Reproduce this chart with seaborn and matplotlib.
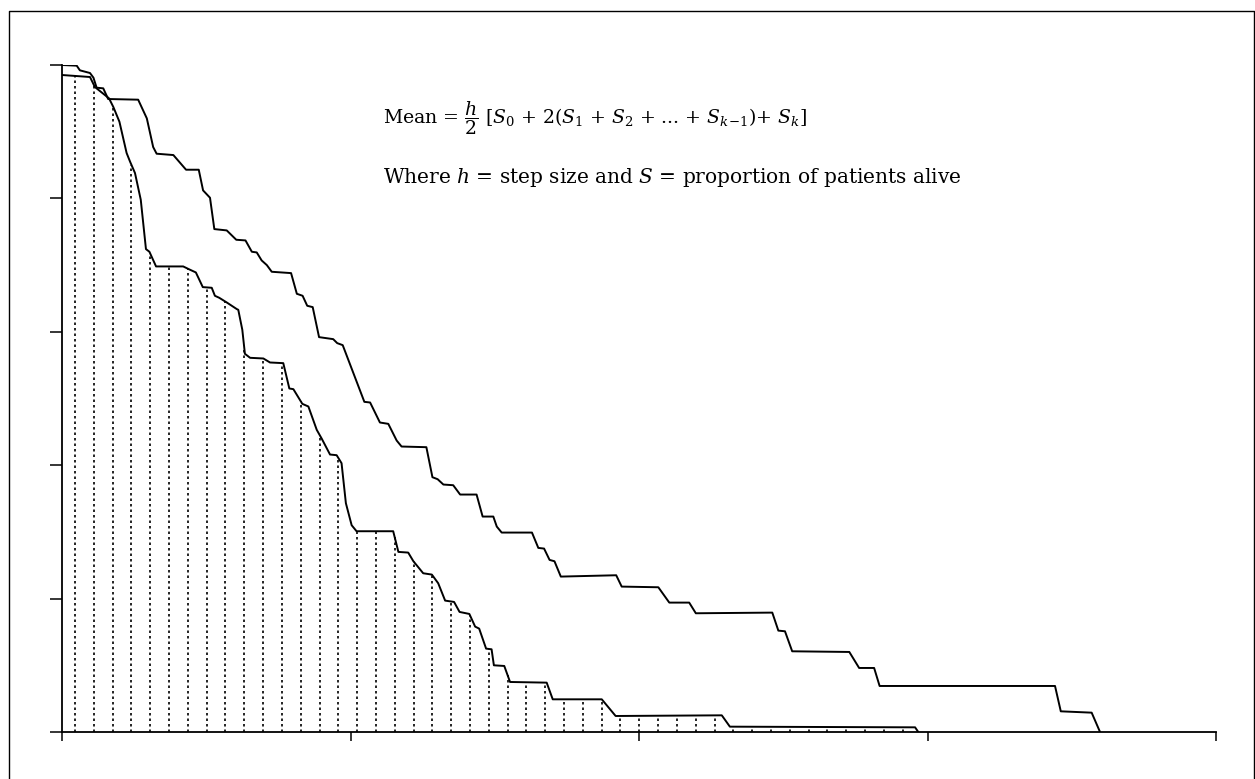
import numpy as np
import pandas as pd
import matplotlib
matplotlib.use("Agg")
import matplotlib.pyplot as plt
from matplotlib.lines import Line2D
import seaborn as sns

# ---- data ----
upper_t = [0.000, 0.051, 0.062, 0.097, 0.109, 0.120, 0.143, 0.160, 0.264, 0.294,
           0.316, 0.328, 0.386, 0.430, 0.474, 0.489, 0.513, 0.528, 0.571, 0.604,
           0.636, 0.658, 0.675, 0.692, 0.710, 0.727, 0.794, 0.814, 0.834, 0.850,
           0.869, 0.891, 0.940, 0.954, 0.973, 1.048, 1.068, 1.102, 1.131, 1.160,
           1.177, 1.263, 1.284, 1.302, 1.322, 1.356, 1.380, 1.437, 1.458, 1.495,
           1.507, 1.524, 1.629, 1.651, 1.671, 1.690, 1.707, 1.729, 1.921, 1.940,
           2.067, 2.105, 2.174, 2.197, 2.462, 2.483, 2.506, 2.531, 2.729, 2.763,
           2.815, 2.834, 3.442, 3.462, 3.569, 3.598]
upper_s = [1.000, 0.999, 0.992, 0.988, 0.981, 0.966, 0.965, 0.949, 0.948, 0.920,
           0.877, 0.867, 0.865, 0.843, 0.843, 0.812, 0.801, 0.754, 0.752, 0.738,
           0.737, 0.720, 0.719, 0.707, 0.700, 0.690, 0.688, 0.657, 0.654, 0.639,
           0.637, 0.592, 0.589, 0.583, 0.580, 0.495, 0.494, 0.464, 0.462, 0.437,
           0.428, 0.427, 0.382, 0.379, 0.371, 0.370, 0.356, 0.356, 0.323, 0.323,
           0.308, 0.299, 0.299, 0.276, 0.275, 0.258, 0.256, 0.233, 0.235, 0.218,
           0.217, 0.194, 0.194, 0.178, 0.179, 0.152, 0.151, 0.121, 0.120, 0.096,
           0.096, 0.069, 0.069, 0.031, 0.029, 0.000]

lower_t = [0.000, 0.097, 0.114, 0.163, 0.178, 0.199, 0.224, 0.236, 0.253, 0.273,
           0.291, 0.303, 0.326, 0.420, 0.444, 0.464, 0.488, 0.519, 0.530, 0.545,
           0.571, 0.606, 0.611, 0.625, 0.634, 0.652, 0.698, 0.721, 0.767, 0.788,
           0.802, 0.833, 0.854, 0.883, 0.900, 0.929, 0.952, 0.969, 0.984, 1.004,
           1.021, 1.148, 1.166, 1.200, 1.218, 1.252, 1.282, 1.304, 1.328, 1.359,
           1.378, 1.412, 1.432, 1.446, 1.470, 1.489, 1.497, 1.533, 1.553, 1.680,
           1.701, 1.871, 1.919, 2.287, 2.315, 2.957, 2.968]
lower_s = [0.985, 0.982, 0.967, 0.950, 0.937, 0.915, 0.868, 0.855, 0.838, 0.798,
           0.724, 0.720, 0.698, 0.698, 0.693, 0.689, 0.667, 0.666, 0.654, 0.651,
           0.644, 0.634, 0.633, 0.603, 0.567, 0.561, 0.560, 0.554, 0.553, 0.515,
           0.514, 0.492, 0.488, 0.453, 0.440, 0.416, 0.415, 0.403, 0.343, 0.310,
           0.301, 0.301, 0.270, 0.269, 0.256, 0.238, 0.236, 0.223, 0.197, 0.195,
           0.180, 0.177, 0.158, 0.155, 0.125, 0.124, 0.100, 0.099, 0.075, 0.074,
           0.049, 0.049, 0.024, 0.025, 0.008, 0.007, 0.000]

# trapezium-rule step grid (step size h) drawn under the lower curve
step_first = 0.045
step_h = 0.0652
step_count = 45

x_ticks = [0, 1, 2, 3, 4]
y_ticks = [0.0, 0.2, 0.4, 0.6, 0.8, 1.0]

formula_text = r"Mean = $\dfrac{h}{2}$ [$S_0$ + 2($S_1$ + $S_2$ + ... + $S_{k\!-\!1}$)+ $S_k$]"
legend_text = r"Where $h$ = step size and $S$ = proportion of patients alive"

# ---- styling ----
sns.set_style("white")
plt.rcParams["font.family"] = ["DejaVu Serif"]
plt.rcParams["mathtext.fontset"] = "dejavuserif"

W, H = 1255, 779
fig = plt.figure(figsize=(W / 100, H / 100), dpi=100)
fig.patch.set_facecolor("white")
ax = fig.add_axes([62 / W, (H - 732) / H, (1216 - 62) / W, (732 - 65) / H])

df_u = pd.DataFrame({"t": upper_t, "s": upper_s})
df_l = pd.DataFrame({"t": lower_t, "s": lower_s})
sns.lineplot(data=df_u, x="t", y="s", sort=False, estimator=None, color="black",
             linewidth=1.4, ax=ax)
sns.lineplot(data=df_l, x="t", y="s", sort=False, estimator=None, color="black",
             linewidth=1.4, ax=ax)

grid_x = step_first + step_h * np.arange(step_count)
grid_top = np.interp(grid_x, lower_t, lower_s)
ax.vlines(grid_x, 0, grid_top, colors="black", linewidth=1.2,
          linestyles=(0, (1.5, 1.8)))

ax.set_xlim(0, 4)
ax.set_ylim(0, 1)
ax.set_xticks(x_ticks)
ax.set_yticks(y_ticks)
ax.set_xticklabels([])
ax.set_yticklabels([])
ax.set_xlabel("")
ax.set_ylabel("")
for side in ["top", "right"]:
    ax.spines[side].set_visible(False)
for side in ["left", "bottom"]:
    ax.spines[side].set_linewidth(1.3)
    ax.spines[side].set_color("black")
ax.tick_params(axis="x", direction="out", length=6.5, width=1.1, color="black",
               bottom=True)
ax.tick_params(axis="y", direction="out", length=8.6, width=1.1, color="black",
               left=True)

fig.text(383 / W, (H - 124) / H, formula_text, fontsize=13.6, va="baseline",
         ha="left", color="black")
fig.text(383 / W, (H - 183) / H, legend_text, fontsize=14.5, va="baseline",
         ha="left", color="black")

# outer frame
fx0, fx1 = 8.7 / W, 1253.5 / W
fy1 = (H - 11) / H
fig.add_artist(Line2D([fx0, fx0, fx1, fx1], [-0.01, fy1, fy1, -0.01],
                      transform=fig.transFigure, color="black", linewidth=1.0))

fig.savefig("out.png", dpi=100, facecolor="white")
